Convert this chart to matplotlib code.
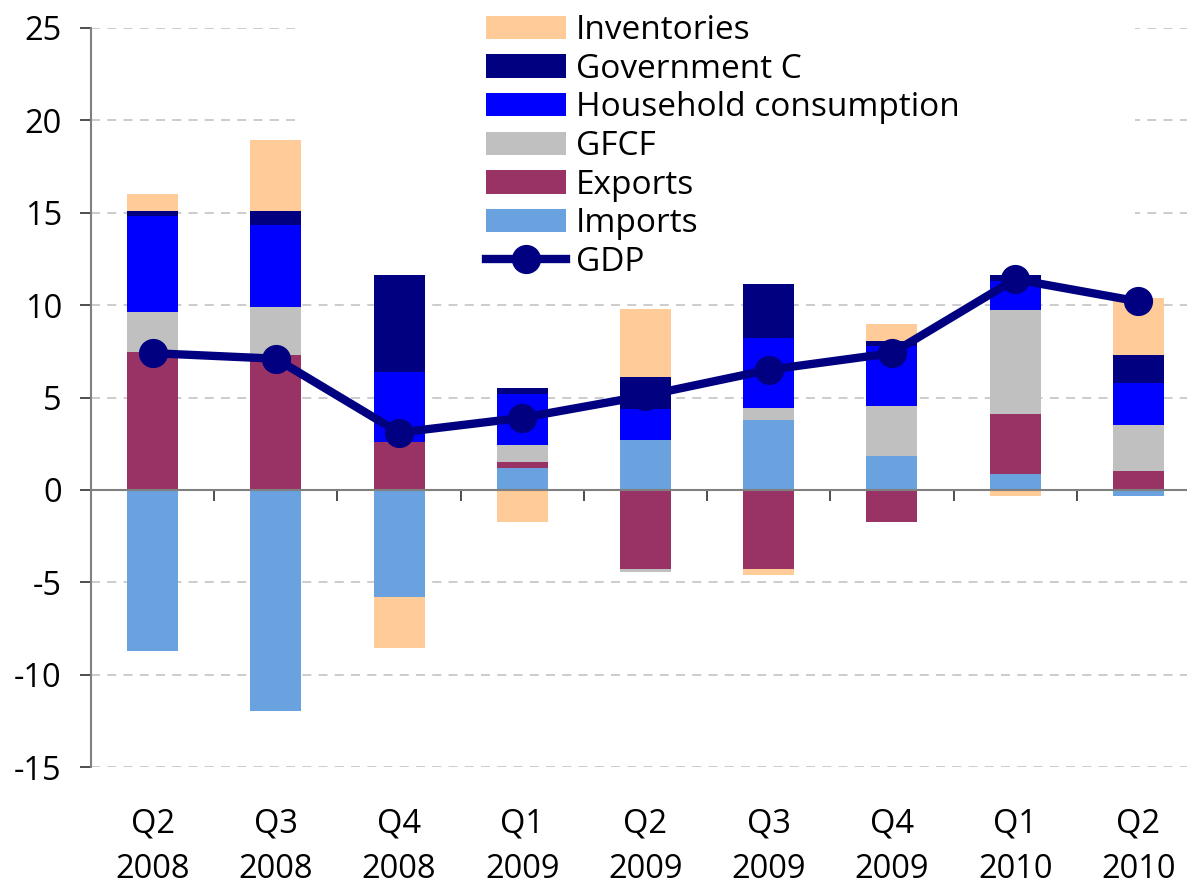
import matplotlib
matplotlib.use("Agg")
import matplotlib.pyplot as plt
from matplotlib.patches import Rectangle
import numpy as np

quarters = ["Q2\n2008", "Q3\n2008", "Q4\n2008", "Q1\n2009", "Q2\n2009",
            "Q3\n2009", "Q4\n2009", "Q1\n2010", "Q2\n2010"]

imports     = [-8.71, -11.96, -5.79, 1.19, 2.71, 3.79, 1.84, 0.87, -0.32]
exports     = [7.47, 7.32, 2.60, 0.33, -4.27, -4.27, -1.73, 3.24, 1.03]
gfcf        = [2.16, 2.58, 0.00, 0.91, -0.17, 0.65, 2.71, 5.63, 2.49]
household   = [5.20, 4.44, 3.79, 2.76, 1.67, 3.78, 3.24, 1.57, 2.27]
government  = [0.27, 0.76, 5.24, 0.33, 1.73, 2.93, 0.27, 0.32, 1.52]
inventories = [0.90, 3.84, -2.76, -1.73, 3.68, -0.33, 0.92, -0.32, 3.08]
gdp         = [7.4, 7.1, 3.1, 3.9, 5.1, 6.5, 7.4, 11.4, 10.2]

series = [
    ("Imports", imports, "#69A2DF"),
    ("Exports", exports, "#993366"),
    ("GFCF", gfcf, "#C0C0C0"),
    ("Household consumption", household, "#0000FF"),
    ("Government C", government, "#000080"),
    ("Inventories", inventories, "#FFCC99"),
]

plt.rcParams['font.family'] = ['Open Sans', 'DejaVu Sans']
plt.rcParams['axes.unicode_minus'] = False
W, H = 1187, 885
fig = plt.figure(figsize=(W / 100, H / 100), dpi=100)
left, right = 91, 1200
top, bottom = 28, 767
ax = fig.add_axes([left / W, 1 - bottom / H, (right - left) / W, (bottom - top) / H])

x = np.arange(len(quarters))
pos_base = np.zeros(len(x))
neg_base = np.zeros(len(x))
handles = {}
for name, vals, col in series:
    v = np.array(vals)
    b = np.where(v >= 0, pos_base, neg_base)
    h = ax.bar(x, v, width=0.414, bottom=b, color=col, label=name, zorder=2)
    handles[name] = h
    pos_base = pos_base + np.where(v >= 0, v, 0)
    neg_base = neg_base + np.where(v < 0, v, 0)

line, = ax.plot(x, gdp, color="#000080", lw=6, marker="o", ms=20,
                label="GDP", zorder=4)

ax.set_xlim(-0.5, len(x) - 0.5)
ax.set_ylim(-15, 25)
ax.set_yticks(np.arange(-15, 26, 5))
ax.yaxis.grid(True, color="#C8C8C8", lw=1.3, ls=(0, (5, 4)))
ax.set_axisbelow(True)

# white area behind legend (hides gridlines as in the reference)
ax.add_patch(Rectangle((298 / W, 1 - 272 / H), (1135 - 298) / W, 272 / H,
                       transform=fig.transFigure, facecolor="white",
                       edgecolor="none", zorder=1))

for s in ["top", "right"]:
    ax.spines[s].set_visible(False)
ax.spines["left"].set_color("#808080")
ax.spines["left"].set_linewidth(1.5)
ax.spines["bottom"].set_position(("data", 0))
ax.spines["bottom"].set_color("#808080")
ax.spines["bottom"].set_linewidth(1.5)

ax.set_xticks(x)
ax.set_xticklabels(quarters, fontsize=23.5, linespacing=1.48)
ax.set_xticks(np.arange(-0.5, len(x), 1.0), minor=True)
ax.tick_params(axis="x", which="major", length=0, pad=229)
ax.tick_params(axis="x", which="minor", length=8, width=1.3, color="#404040",
               direction="out")
ax.tick_params(axis="y", length=8, width=1.3, color="#404040", pad=13,
               labelsize=23.5)

order = ["Inventories", "Government C", "Household consumption", "GFCF",
         "Exports", "Imports"]
hl = [handles[n] for n in order] + [line]
ll = order + ["GDP"]
leg = fig.legend(hl, ll, loc="upper left", bbox_to_anchor=(486 / W, 1 - 14 / H),
                 frameon=False, fontsize=24, handlelength=2.4,
                 handleheight=0.7, handletextpad=0.3, labelspacing=0.17,
                 borderaxespad=0, borderpad=0)

fig.savefig("out.png", dpi=100)
